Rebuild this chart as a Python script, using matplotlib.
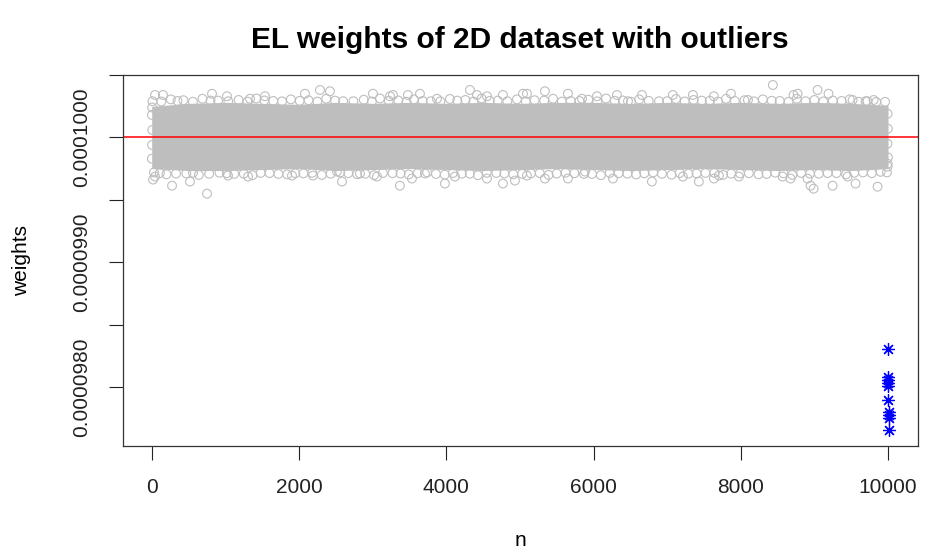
import matplotlib
matplotlib.use('Agg')
import matplotlib.pyplot as plt

plt.rcParams['font.family'] = ['Liberation Sans', 'DejaVu Sans']

# dense core of the weights cloud (solid grey band)
band_x = [0, 500, 1000, 1500, 2000, 2500, 3000, 3500, 4000, 4500, 5000,
          5500, 6000, 6500, 7000, 7500, 8000, 8500, 9000, 9500, 10000]
band_hi = [0.000100249, 0.000100273, 0.000100281, 0.000100273, 0.000100265,
           0.000100281, 0.000100273, 0.000100281, 0.000100273, 0.000100281,
           0.000100273, 0.000100281, 0.000100281, 0.000100273, 0.000100281,
           0.000100273, 0.000100281, 0.000100273, 0.000100281, 0.000100273,
           0.000100257]
band_lo = [0.000099751, 0.000099735, 0.000099735, 0.000099743, 0.000099751,
           0.000099735, 0.000099743, 0.000099751, 0.000099743, 0.000099735,
           0.000099743, 0.000099751, 0.000099743, 0.000099735, 0.000099743,
           0.000099751, 0.000099743, 0.000099735, 0.000099743, 0.000099735,
           0.000099751]

# circles on the edges of the band (outer row)
edge_top_x = [10, 260, 430, 690, 900, 1180, 1420, 1650, 1890, 2130, 2370, 2600,
              2880, 3100, 3350, 3560, 3790, 4050, 4260, 4480, 4700, 4960, 5200,
              5450, 5690, 5930, 6170, 6400, 6620, 6890, 7120, 7360, 7580, 7800,
              8050, 8300, 8530, 8760, 9000, 9250, 9480, 9720, 9960]
edge_top_y = [0.0001002900, 0.0001003050, 0.0001002980, 0.0001003100, 0.0001002950,
              0.0001003000, 0.0001003120, 0.0001002920, 0.0001003050, 0.0001002980,
              0.0001003100, 0.0001002900, 0.0001003020, 0.0001003120, 0.0001002960,
              0.0001003050, 0.0001002900, 0.0001003080, 0.0001003000, 0.0001003120,
              0.0001002950, 0.0001003050, 0.0001002980, 0.0001003100, 0.0001002920,
              0.0001003020, 0.0001003120, 0.0001002960, 0.0001003050, 0.0001002900,
              0.0001003080, 0.0001003000, 0.0001002940, 0.0001003100, 0.0001002980,
              0.0001003050, 0.0001002920, 0.0001003100, 0.0001003000, 0.0001002950,
              0.0001003050, 0.0001002900, 0.0001002850]
edge_bot_x = [30, 200, 470, 640, 920, 1120, 1370, 1600, 1840, 2060, 2310, 2560,
              2790, 3020, 3270, 3490, 3740, 3980, 4210, 4430, 4680, 4910, 5150,
              5390, 5620, 5870, 6100, 6340, 6580, 6810, 7060, 7290, 7520, 7760,
              7990, 8240, 8470, 8700, 8940, 9180, 9430, 9660, 9900]
edge_bot_y = [0.0000997200, 0.0000997050, 0.0000997120, 0.0000997000, 0.0000997180,
              0.0000997080, 0.0000996980, 0.0000997150, 0.0000997040, 0.0000997120,
              0.0000997000, 0.0000997200, 0.0000997060, 0.0000996980, 0.0000997140,
              0.0000997040, 0.0000997200, 0.0000997020, 0.0000997100, 0.0000996980,
              0.0000997160, 0.0000997050, 0.0000997120, 0.0000997000, 0.0000997180,
              0.0000997080, 0.0000996980, 0.0000997140, 0.0000997040, 0.0000997200,
              0.0000997020, 0.0000997100, 0.0000997160, 0.0000997000, 0.0000997120,
              0.0000997050, 0.0000997180, 0.0000997000, 0.0000997100, 0.0000997150,
              0.0000997050, 0.0000997200, 0.0000997250]

# circles on the edges of the band (inner row)
inner_top_x = [130, 350, 560, 800, 1040, 1300,
               1530, 1770, 2010, 2250, 2490, 2740,
               2990, 3220, 3460, 3680, 3920, 4150,
               4370, 4590, 4830, 5080, 5330, 5570,
               5810, 6050, 6290, 6510, 6750, 7000,
               7240, 7470, 7690, 7920, 8180, 8420,
               8650, 8880, 9120, 9370, 9600, 9840]
inner_top_y = [0.000100288, 0.000100292, 0.000100286, 0.000100295, 0.000100290, 0.000100287,
               0.000100296, 0.000100289, 0.000100293, 0.000100287, 0.000100295, 0.000100290,
               0.000100288, 0.000100294, 0.000100286, 0.000100292, 0.000100289, 0.000100295,
               0.000100287, 0.000100293, 0.000100290, 0.000100288, 0.000100295, 0.000100287,
               0.000100292, 0.000100289, 0.000100294, 0.000100286, 0.000100293, 0.000100290,
               0.000100288, 0.000100295, 0.000100287, 0.000100292, 0.000100289, 0.000100294,
               0.000100286, 0.000100290, 0.000100288, 0.000100292, 0.000100286, 0.000100284]
inner_bot_x = [110, 330, 560, 780, 1020, 1250,
               1480, 1720, 1950, 2180, 2430, 2670,
               2900, 3140, 3380, 3610, 3860, 4090,
               4320, 4550, 4790, 5030, 5270, 5500,
               5740, 5980, 6220, 6460, 6690, 6930,
               7170, 7400, 7640, 7870, 8110, 8350,
               8580, 8820, 9060, 9300, 9540, 9780, 9985]
inner_bot_y = [0.000099715, 0.000099711, 0.000099717, 0.000099709, 0.000099714, 0.000099710,
               0.000099716, 0.000099708, 0.000099713, 0.000099717, 0.000099710, 0.000099714,
               0.000099709, 0.000099716, 0.000099711, 0.000099713, 0.000099708, 0.000099715,
               0.000099710, 0.000099717, 0.000099712, 0.000099709, 0.000099715, 0.000099711,
               0.000099714, 0.000099708, 0.000099716, 0.000099710, 0.000099713, 0.000099709,
               0.000099715, 0.000099711, 0.000099717, 0.000099710, 0.000099714, 0.000099708,
               0.000099713, 0.000099716, 0.000099710, 0.000099715, 0.000099717, 0.000099714,
               0.000099720]

# circles at the two ends of the band
end_x = [3, 8, 5, 2, 6, 9994, 9997, 9992, 9999, 9995]
end_y = [0.000100180, 0.000100060, 0.000099940, 0.000099830, 0.000100240,
         0.000100190, 0.000100070, 0.000099950, 0.000099840, 0.000099790]

# separate grey circles above and below the band
out_hi_x = [45, 153, 819, 1022, 1335, 1538, 2081, 2285, 2420, 3005, 3236, 3276,
            3480, 3643, 3874, 4322, 4417, 4553, 4770, 5042, 5096, 5340, 5653,
            5843, 6047, 6318, 6468, 6658, 7078, 7350, 7635, 7866, 8097, 8436,
            8717, 8772, 9043, 9192, 9519, 9695, 9804]
out_hi_y = [0.00010034, 0.00010034, 0.00010035, 0.00010033, 0.00010031,
            0.00010033, 0.00010035, 0.00010038, 0.00010037, 0.00010035,
            0.00010033, 0.00010034, 0.00010034, 0.00010035, 0.00010031,
            0.00010038, 0.00010034, 0.00010033, 0.00010034, 0.00010035,
            0.00010035, 0.00010037, 0.00010035, 0.00010031, 0.00010033,
            0.00010034, 0.00010029, 0.00010034, 0.00010034, 0.00010034,
            0.00010033, 0.00010035, 0.00010030, 0.00010042, 0.00010034,
            0.00010035, 0.00010038, 0.00010035, 0.00010030, 0.00010029,
            0.00010030]
out_lo_x = [18, 45, 276, 520, 751, 1036, 1308, 1905, 2190, 2516, 2584, 2828,
            3059, 3371, 3534, 3711, 3982, 4118, 4553, 4770, 4933, 5096, 5340,
            5653, 5884, 6264, 6793, 7214, 7431, 7635, 7703, 7975, 8568, 8676,
            8907, 8948, 8989, 9247, 9451, 9559, 9858, 9994]
out_lo_y = [0.000099663, 0.000099687, 0.000099614, 0.000099647, 0.000099550,
            0.000099695, 0.000099687, 0.000099695, 0.000099695, 0.000099727,
            0.000099647, 0.000099711, 0.000099687, 0.000099614, 0.000099671,
            0.000099711, 0.000099631, 0.000099687, 0.000099671, 0.000099631,
            0.000099655, 0.000099695, 0.000099671, 0.000099671, 0.000099727,
            0.000099671, 0.000099647, 0.000099687, 0.000099647, 0.000099671,
            0.000099695, 0.000099687, 0.000099687, 0.000099671, 0.000099671,
            0.000099614, 0.000099590, 0.000099614, 0.000099687, 0.000099631,
            0.000099606, 0.000099767]

# the outliers (blue asterisks)
outlier_x = [10001, 10002, 10003, 10004, 10005, 10006, 10007, 10008, 10009, 10010]
outlier_y = [0.000098305, 0.000098080, 0.000098056, 0.000098032, 0.000098008,
             0.000097896, 0.000097799, 0.000097775, 0.000097751, 0.000097655]

yticks = [0.0000980, 0.0000985, 0.0000990, 0.0000995, 0.0001000, 0.0001005]
ytick_labels = ['0.0000980', '', '0.0000990', '', '0.0001000', '']
xticks = [0, 2000, 4000, 6000, 8000, 10000]

grey = '#BEBEBE'

fig = plt.figure(figsize=(9.25, 5.54), dpi=100)
ax = fig.add_axes([123 / 925, 1 - 446 / 554, 795 / 925, 371 / 554])

ax.fill_between(band_x, band_lo, band_hi, color=grey, lw=0)
circ = dict(s=40, facecolors='none', edgecolors=grey, linewidths=0.8)
ax.scatter(inner_top_x, inner_top_y, **circ)
ax.scatter(inner_bot_x, inner_bot_y, **circ)
ax.scatter(edge_top_x, edge_top_y, **circ)
ax.scatter(edge_bot_x, edge_bot_y, **circ)
ax.scatter(end_x, end_y, **circ)
ax.scatter(out_hi_x, out_hi_y, **circ)
ax.scatter(out_lo_x, out_lo_y, **circ)
ax.plot(outlier_x, outlier_y, ls='none', marker=(8, 2, 0), ms=9,
        mec='blue', mew=0.9)
ax.axhline(0.0001, color='#FF0000', lw=1.1)

ax.set_xlim(-390, 10407)
ax.set_ylim(0.00009753, 0.0001005)
ax.set_xticks(xticks)
ax.set_xticklabels([str(v) for v in xticks])
ax.set_yticks(yticks)
ax.set_yticklabels(ytick_labels, rotation=90, va='center')
ax.tick_params(length=10, width=0.8, pad=13, labelsize=15, colors='#222222')
for sp in ax.spines.values():
    sp.set_linewidth(0.9)
    sp.set_color('#333333')

fig.text(520 / 925, 1 - 40 / 554, 'EL weights of 2D dataset with outliers',
         ha='center', va='center', fontsize=21.5, fontweight='bold')
fig.text(520 / 925, 1 - 540 / 554, 'n', ha='center', va='center', fontsize=15)
fig.text(22 / 925, 1 - 260 / 554, 'weights', ha='center', va='center',
         rotation=90, fontsize=15)

fig.savefig('out.png', dpi=100)
